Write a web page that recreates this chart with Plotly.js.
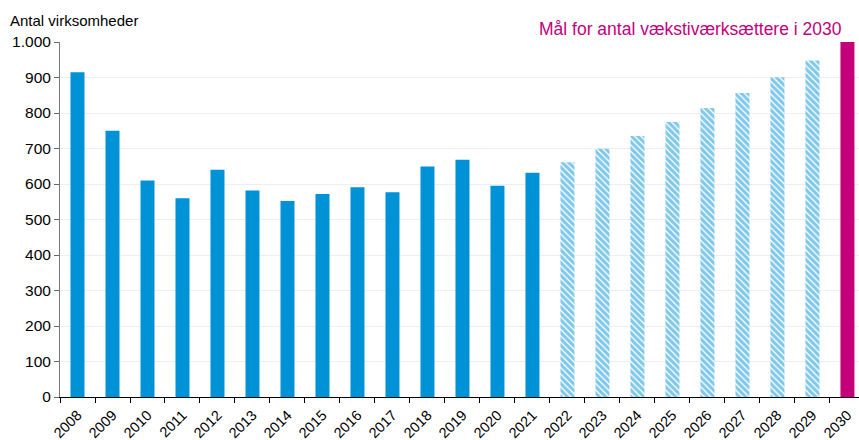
<!DOCTYPE html>
<html>
<head>
<meta charset="utf-8">
<script src="https://cdn.plot.ly/plotly-3.0.1.min.js"></script>
<style>html,body{margin:0;padding:0;background:#fff;}#chart{width:859px;height:440px;}</style>
</head>
<body>
<div id="chart"></div>
<script>
const actualYears = ["2008","2009","2010","2011","2012","2013","2014","2015","2016","2017","2018","2019","2020","2021"];
const actualValues = [915, 750, 610, 560, 640, 582, 552, 572, 591, 577, 649, 668, 595, 632];
const projYears = ["2022","2023","2024","2025","2026","2027","2028","2029"];
const projValues = [661, 699, 735, 775, 814, 856, 901, 948];
const targetYears = ["2030"];
const targetValues = [1000];
const allYears = actualYears.concat(projYears, targetYears);
const yTicks = [0,100,200,300,400,500,600,700,800,900,1000];

const blue = "#0092D6";
const pink = "#C4007A";

const traces = [
  {type:"bar", x:actualYears, y:actualValues, marker:{color:blue, line:{width:0}}},
  {type:"bar", x:projYears, y:projValues, marker:{color:"#ffffff", line:{width:0},
    pattern:{shape:"\\", fgcolor:blue, bgcolor:"#ffffff", size:4.5, solidity:0.7, fillmode:"overlay"}}},
  {type:"bar", x:targetYears, y:targetValues, marker:{color:pink, line:{width:0}}}
];

const layout = {
  width:859, height:440,
  margin:{l:60, r:0, t:42, b:43},
  paper_bgcolor:"#fff", plot_bgcolor:"#fff",
  showlegend:false,
  barmode:"overlay",
  bargap:0.6,
  separators:",.",
  font:{family:"Liberation Sans, Arial, sans-serif", size:15, color:"#000"},
  xaxis:{type:"category", categoryorder:"array", categoryarray:allYears,
    range:[-0.5, 22.33], tickson:"boundaries", ticks:"outside", ticklen:5, tickcolor:"#000",
    showline:true, linecolor:"#000", linewidth:1, showgrid:false, tickangle:-45,
    ticklabelstandoff:3,
    tickfont:{size:14.5}, fixedrange:true},
  yaxis:{range:[0,1000], tickvals:yTicks, tickformat:",d", ticks:"outside", ticklen:5, tickcolor:"#666",
    showline:true, linecolor:"#777", linewidth:1, showgrid:true, gridcolor:"#eeeeee", gridwidth:1,
    zeroline:false, tickfont:{size:15.5}, fixedrange:true},
  annotations:[
    {text:"Antal virksomheder", xref:"paper", yref:"paper", x:-0.065, y:1.03, xanchor:"left", yanchor:"bottom",
     showarrow:false, font:{size:15, color:"#000"}},
    {text:"Mål for antal vækstiværksættere i 2030", xref:"paper", yref:"paper", x:0.981, y:1.003, xanchor:"right", yanchor:"bottom",
     showarrow:false, font:{size:17.5, color:pink}}
  ]
};

Plotly.newPlot("chart", traces, layout, {displayModeBar:false, staticPlot:true});
</script>
</body>
</html>
